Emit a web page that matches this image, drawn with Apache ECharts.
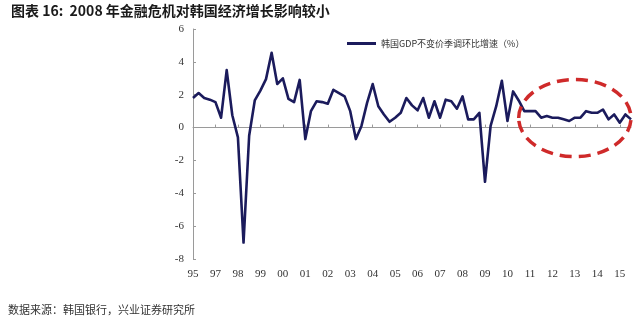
<!DOCTYPE html>
<html>
<head>
<meta charset="utf-8">
<script src="https://cdn.jsdelivr.net/npm/echarts@6/dist/echarts.min.js"></script>
<style>
    html, body { margin: 0; padding: 0; background: #fff; }
    #chart { width: 640px; height: 325px; }
</style>
</head>
<body>
<div id="chart"></div>
<script>
// year labels shown every 4 quarters
const yearLabels = ['95', '97', '98', '99', '00', '01', '02', '03', '04', '05',
    '06', '07', '08', '09', '10', '11', '12', '13', '14', '15']

// 韩国GDP不变价季调环比增速 (%), quarterly
const gdpQoq = [
    1.8, 2.1, 1.8, 1.7, 1.55, 0.6, 3.5, 0.75, -0.6, -7.0,
    -0.5, 1.65, 2.25, 2.95, 4.55, 2.65, 3.0, 1.75, 1.55, 2.9,
    -0.7, 1.0, 1.6, 1.55, 1.45, 2.3, 2.1, 1.9, 1.0, -0.7,
    0.1, 1.5, 2.65, 1.3, 0.8, 0.35, 0.6, 0.9, 1.8, 1.35,
    1.05, 1.8, 0.6, 1.6, 0.6, 1.7, 1.6, 1.15, 1.9, 0.5,
    0.5, 0.9, -3.3, 0.1, 1.3, 2.85, 0.4, 2.2, 1.65, 1.0,
    1.0, 1.0, 0.6, 0.7, 0.6, 0.6, 0.5, 0.4, 0.6, 0.6,
    1.0, 0.9, 0.9, 1.1, 0.5, 0.8, 0.3, 0.8, 0.5
]

const quarters = gdpQoq.map((v, i) => i)

const seriesName = '韩国GDP不变价季调环比增速（%）'
const titleText = '图表 16:  2008 年金融危机对韩国经济增长影响较小'
const sourceText = '数据来源：韩国银行，兴业证券研究所'

// highlighted area (quarter index / value) for the dashed ring
const ringCenter = [68, 0.58]
const ringHalf = [10.15, 2.35]

const serif = '"Liberation Serif", "Times New Roman", serif'
const cjk = '"Noto Sans CJK SC", sans-serif'

const chart = echarts.init(document.getElementById('chart'), null, { renderer: 'canvas' })

const options = {
    backgroundColor: '#fff',
    animation: false,
    grid: { left: 193, right: 9, top: 29, bottom: 66 },
    legend: {
        left: 347,
        top: 39,
        padding: 0,
        icon: 'rect',
        itemWidth: 29,
        itemHeight: 3,
        itemGap: 4,
        textStyle: { fontFamily: cjk, fontSize: 9, color: '#333' },
        data: [seriesName]
    },
    xAxis: [
        {
            type: 'category',
            data: quarters,
            boundaryGap: false,
            axisLine: { onZero: true, lineStyle: { color: '#9a9a9a', width: 1 } },
            axisTick: { show: true, inside: true, length: 3, interval: 3, lineStyle: { color: '#9a9a9a' } },
            axisLabel: { show: false },
            splitLine: { show: false }
        },
        {
            type: 'category',
            data: quarters,
            boundaryGap: false,
            position: 'bottom',
            axisLine: { show: false, onZero: false },
            axisTick: { show: false },
            axisLabel: {
                interval: 3,
                margin: 10,
                fontFamily: serif,
                fontSize: 11,
                color: '#333',
                formatter: (v, i) => yearLabels[i / 4] || ''
            },
            splitLine: { show: false }
        }
    ],
    yAxis: {
        type: 'value',
        min: -8,
        max: 6,
        interval: 2,
        axisLine: { show: true, lineStyle: { color: '#9a9a9a', width: 1 } },
        axisTick: { show: true, inside: true, length: 3, lineStyle: { color: '#9a9a9a' } },
        axisLabel: { margin: 9, fontFamily: serif, fontSize: 11, color: '#333' },
        splitLine: { show: false }
    },
    series: [{
        name: seriesName,
        type: 'line',
        xAxisIndex: 0,
        data: gdpQoq,
        symbol: 'none',
        lineStyle: { color: '#1b1b5c', width: 2.6, join: 'round' },
        itemStyle: { color: '#1b1b5c' }
    }]
}

chart.setOption(options)

// place annotation ring through the axes' own scales
const c = chart.convertToPixel({ gridIndex: 0 }, ringCenter)
const edge = chart.convertToPixel({ gridIndex: 0 }, [ringCenter[0] + ringHalf[0], ringCenter[1] + ringHalf[1]])

chart.setOption({
    graphic: [
        {
            type: 'text',
            left: 11,
            top: 4,
            style: { text: titleText, fontFamily: cjk, fontSize: 14, fontWeight: 'bold', fill: '#1a1a1a' }
        },
        {
            type: 'text',
            left: 8,
            top: 304,
            style: { text: sourceText, fontFamily: cjk, fontSize: 11, fill: '#333' }
        },
        {
            type: 'ellipse',
            shape: { cx: c[0], cy: c[1], rx: Math.abs(edge[0] - c[0]), ry: Math.abs(c[1] - edge[1]) },
            style: { fill: 'none', stroke: '#cf2a2a', lineWidth: 3.5, lineDash: [12, 7] },
            z: 10
        }
    ]
})
</script>
</body>
</html>
